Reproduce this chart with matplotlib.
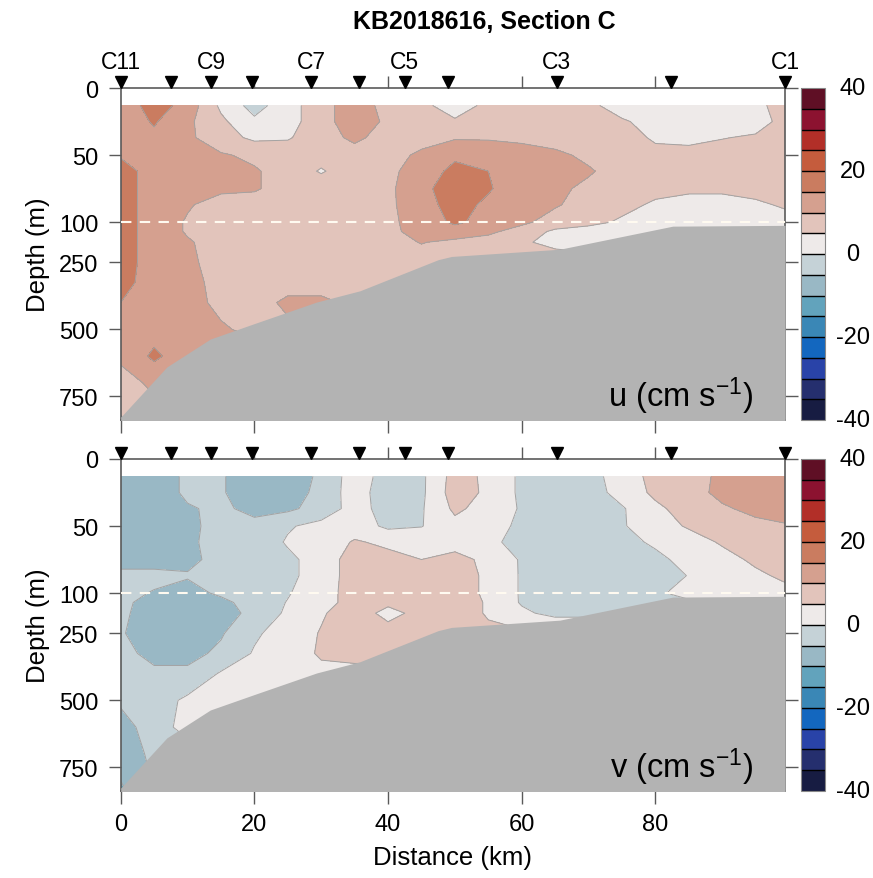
import numpy as np
import matplotlib
matplotlib.use("Agg")
import matplotlib.pyplot as plt
from matplotlib.colors import ListedColormap, BoundaryNorm
from matplotlib.cm import ScalarMappable

plt.rcParams["font.family"] = ["Liberation Sans", "DejaVu Sans"]
plt.rcParams["mathtext.default"] = "regular"
plt.rcParams["axes.unicode_minus"] = False

# grid of the section (distance along line, depth)
dist_km = [0, 5, 10, 15, 20, 25, 30, 35, 40, 45, 50, 55, 60, 65, 70, 75, 80, 85, 90, 95, 100]
depth_m = [13, 25, 37, 50, 62, 75, 87, 100, 135, 175, 250, 325, 400, 500, 600, 700, 840]

# eastward velocity u (cm/s), one row per depth
u_vel = [
    [11.5, 17.5, 13, 4, -2, 3, 8, 13, 8, 6, 3, 6, 8, 8, 6, 3, 2, 2, 2, 4, 7],
    [12, 15.5, 11, 6, 1, 3, 8, 13, 9, 7, 5.5, 7, 8, 8, 7, 5.5, 3.5, 3, 3, 4, 6],
    [13, 14, 11, 7, 4, 4.5, 8, 11, 8, 9, 9.5, 9.5, 9, 8, 7, 6.5, 4.5, 4.2, 4.9, 5.3, 6],
    [14.5, 13, 12, 10.5, 9, 8, 7, 8, 9, 10.5, 14, 13, 12, 11, 9, 7, 6, 6, 6, 6, 6],
    [17, 13, 13, 12, 10.5, 8, 4.5, 8, 9, 12, 16.5, 15, 13, 12, 10.5, 8, 7, 7, 7, 7, 6.5],
    [17, 13, 12, 11, 10.5, 8, 8, 8, 9, 13.5, 18, 15.5, 12, 11, 9, 7, 6, 5.5, 5.5, 6, 6],
    [17, 13, 10.5, 8, 8, 8, 8, 8, 9, 13, 17, 14, 12, 10.5, 8, 6, 4.5, 4, 4, 4.5, 5.5],
    [17, 13, 9.5, 8, 8, 8, 8, 8, 9, 12, 16, 13, 11, 8, 6, 4.5, 3, 3, 3, 3.5, 4],
    [17, 13, 9.5, 8, 8, 8, 8, 8, 9, 11.5, 12.5, 11, 8, 4, 3.5, 3, 3, 3, 3, 3, 3],
    [17, 13, 10.5, 8, 8, 8, 8, 8, 8.5, 10.2, 9, 8, 5.5, 4, 3, 3, 3, 3, 3, 3, 3],
    [17, 13, 11, 8, 8, 8, 8, 8, 8, 8, 7, 7, 7, 7, 7, 7, 7, 7, 7, 7, 7],
    [16.5, 13, 11, 9, 8, 8, 8, 7, 7, 7, 7, 7, 7, 7, 7, 7, 7, 7, 7, 7, 7],
    [15, 13, 11.5, 9, 8, 11, 11, 9, 8, 8, 8, 8, 8, 8, 8, 8, 8, 8, 8, 8, 8],
    [12, 13, 12, 10.5, 9, 9, 9, 9, 9, 9, 9, 9, 9, 9, 9, 9, 9, 9, 9, 9, 9],
    [11, 16, 12, 12, 12, 12, 12, 12, 12, 12, 12, 12, 12, 12, 12, 12, 12, 12, 12, 12, 12],
    [8, 11, 11, 11, 11, 11, 11, 11, 11, 11, 11, 11, 11, 11, 11, 11, 11, 11, 11, 11, 11],
    [4.5, 8, 8, 8, 8, 8, 8, 8, 8, 8, 8, 8, 8, 8, 8, 8, 8, 8, 8, 8, 8],
]

# northward velocity v (cm/s)
v_vel = [
    [-8, -8, -4, -4.5, -8, -8, -4, 2.5, -2, -1, 7, 4, -1, -3, -2, 2.5, 6.5, 8, 11, 13, 12],
    [-8, -8, -4, -4.5, -8, -7.5, -3.5, 2.5, -3, -1, 7.5, 4, -1, -3, -2.5, 2, 6, 8.5, 11, 13, 13],
    [-8, -8, -5.5, -4, -6.5, -6, -3, 2, -2, -0.5, 6, 3, -0.5, -3, -2.5, -0.5, 4, 7, 9.5, 11, 11.5],
    [-8, -8, -6, -3.5, -3.5, -0.5, 1.5, 2.5, -1, -0.2, 3.5, 2, -1, -3, -3, -0.5, 3, 5.5, 7, 9, 9.8],
    [-8, -8, -6, -3, -3, 0.5, 2, 5.5, 4, 3, 2.5, 1, -1.5, -3, -3, -2, 1, 3, 5.5, 6.5, 7.5],
    [-8, -8, -6.5, -3, -2.5, -1, 2, 7.5, 6.5, 5, 7, 3.5, -0.5, -3, -3, -3, -1.5, 2, 3.5, 5.8, 6.5],
    [-3, -3, -4.5, -2.5, -2, -1, 2, 7.5, 7.5, 7, 7.5, 4, -0.5, -3, -3, -3, -2.5, 0.2, 3, 4.2, 6],
    [-3, -5.5, -7, -4, -2, -0.3, 2.5, 7.5, 7.5, 7.5, 7.5, 4, -0.5, -3, -3, -2.5, -1, 2, 3, 3.5, 4],
    [-3.5, -7.5, -8, -6.5, -2.5, 0.2, 3, 7, 6, 7, 7.5, 4.5, -0.5, -2.5, -2.5, -2, -1, -1, -1, -1, -1],
    [-4, -7.5, -8, -6.5, -4, 1, 4.5, 7.5, 3.5, 6.5, 7.5, 4.5, 1, -1.5, -1.5, -1, -1, -1, -1, -1, -1],
    [-4.5, -8, -8, -5.5, -0.8, 2.5, 5.3, 7.5, 7, 7, 6, 6, 6, 6, 6, 6, 6, 6, 6, 6, 6],
    [-3.5, -6.5, -6.5, -4, 0.5, 3, 5.5, 6, 6, 6, 6, 6, 6, 6, 6, 6, 6, 6, 6, 6, 6],
    [-3, -4, -4, 0.5, 2.5, 3, 4, 4, 4, 4, 4, 4, 4, 4, 4, 4, 4, 4, 4, 4, 4],
    [-4, -2.5, 1, 2.5, 3, 3, 3, 3, 3, 3, 3, 3, 3, 3, 3, 3, 3, 3, 3, 3, 3],
    [-7.5, -2, 1.5, 2, 2, 2, 2, 2, 2, 2, 2, 2, 2, 2, 2, 2, 2, 2, 2, 2, 2],
    [-7.5, -4, -2, -2, -2, -2, -2, -2, -2, -2, -2, -2, -2, -2, -2, -2, -2, -2, -2, -2, -2],
    [-11, -5, -3, -3, -3, -3, -3, -3, -3, -3, -3, -3, -3, -3, -3, -3, -3, -3, -3, -3, -3],
]

# bottom topography along the section
bathy_km = [0, 6.9, 13.4, 19.8, 29.3, 35.8, 47.5, 49.5, 65.7, 82.6, 99.4]
bathy_m = [827, 640, 536, 480, 398, 356, 240, 228, 201, 115, 112]

# CTD/ADCP stations
station_km = [0, 7.5, 13.5, 19.6, 28.5, 35.6, 42.5, 49.0, 65.2, 82.4, 99.4]
label_km = [0, 13.5, 28.5, 42.5, 65.2, 99.4]
label_txt = ["C11", "C9", "C7", "C5", "C3", "C1"]

cbar_ticks = [-40, -20, 0, 20, 40]

levels = np.arange(-40, 45, 5)
cmap = ListedColormap([
    "#171c42", "#252f6e", "#2943a8", "#1367bf", "#3a87b6", "#62a3bc", "#99b8c5", "#c5d2d7",
    "#eeeae9", "#e2c4bb", "#d5a08f", "#ca7c60", "#c55c3d", "#b22f28", "#8c1230", "#5f0f25",
])
spine_col = "#5a5a5a"


def fwd(d):
    d = np.asarray(d, dtype=float)
    return np.where(d <= 100, d, 100 + (d - 100) * 0.2)


def inv(t):
    t = np.asarray(t, dtype=float)
    return np.where(t <= 100, t, 100 + (t - 100) / 0.2)


def draw_panel(ax, cax, field, name, show_labels):
    # own norm per panel, a shared one makes the first colorbar redraw its ticks
    norm = BoundaryNorm(levels, cmap.N)
    X, Y = np.meshgrid(dist_km, depth_m)
    Z = np.array(field)
    ax.set_yscale("function", functions=(fwd, inv))
    ax.contourf(X, Y, Z, levels=levels, cmap=cmap, norm=norm, zorder=1)
    ax.contour(X, Y, Z, levels=levels, colors="#a3a3a3", linewidths=0.7,
               linestyles="solid", zorder=2)
    ax.fill_between(bathy_km, bathy_m, 900, color="#b3b3b3", lw=0, zorder=3)
    ax.axhline(100, color="#fffaf0", ls=(0, (5, 4)), lw=1.5, zorder=4)
    ax.set_xlim(0, 99.4)
    ax.set_ylim(838, 0)
    ax.set_yticks([0, 50, 100, 250, 500, 750])
    ax.set_yticklabels(["0", "50", "100", "250", "500", "750"])
    ax.yaxis.set_minor_locator(plt.NullLocator())
    ax.set_xticks([0, 20, 40, 60, 80])
    ax.tick_params(direction="out", length=9, width=1, color=spine_col, labelsize=17,
                   pad=7, top=True, right=True, labelbottom=show_labels)
    for s in ax.spines.values():
        s.set_color(spine_col)
        s.set_linewidth(1.2)
    ax.set_ylabel("Depth (m)", fontsize=18.5)
    ax.yaxis.set_label_coords(-0.106, 0.5)

    # station markers above the section
    ax.plot(station_km, [1.019] * len(station_km), "v", color="black", markersize=9,
            transform=ax.get_xaxis_transform(), clip_on=False, zorder=6)

    ax.text(0.952, 0.042, name, transform=ax.transAxes, ha="right", va="baseline",
            fontsize=23.5, zorder=6)

    # colorbar: axis ticks hidden, value labels written centred beside it
    cb = fig.colorbar(ScalarMappable(norm=norm, cmap=cmap), cax=cax, drawedges=True)
    cb.dividers.set_color("black")
    cb.dividers.set_linewidth(1.0)
    cb.outline.set_edgecolor("#888888")
    cax.set_yticks([])
    cax.set_yticks([], minor=True)
    cax.set_xticks([])
    for t in cbar_ticks:
        cax.text(2.15, t, str(t), transform=cax.get_yaxis_transform(), ha="center",
                 va="center", fontsize=17)


fig = plt.figure(figsize=(8.73, 8.79), dpi=100)
ax1 = fig.add_axes([0.1383, 0.521, 0.761, 0.3777])
ax2 = fig.add_axes([0.1383, 0.099, 0.761, 0.3777])
cax1 = fig.add_axes([0.9172, 0.521, 0.0278, 0.3777])
cax2 = fig.add_axes([0.9172, 0.099, 0.0278, 0.3777])

draw_panel(ax1, cax1, u_vel, "u (cm s$^{-1}$)", False)
draw_panel(ax2, cax2, v_vel, "v (cm s$^{-1}$)", True)

for x, t in zip(label_km, label_txt):
    ax1.text(x, 1.081, t, transform=ax1.get_xaxis_transform(), ha="center", va="center",
             fontsize=16.5)

ax2.set_xlabel("Distance (km)", fontsize=18.5)
ax2.xaxis.set_label_coords(0.5, -0.163)

fig.text(0.555, 0.975, "KB2018616, Section C", ha="center", va="center",
         fontsize=18, fontweight="bold")

fig.savefig("out.png", dpi=100)
plt.close(fig)
